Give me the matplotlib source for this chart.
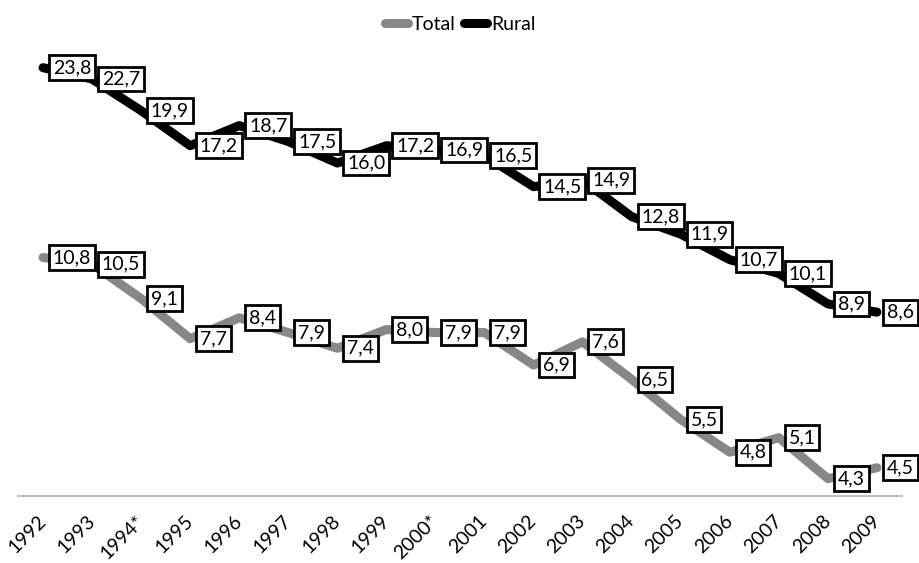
import matplotlib.pyplot as plt
import numpy as np

plt.rcParams['font.family'] = ['Lato', 'DejaVu Sans']

# data
years = ['1992', '1993', '1994*', '1995', '1996', '1997', '1998', '1999', '2000*',
         '2001', '2002', '2003', '2004', '2005', '2006', '2007', '2008', '2009']
total = [10.8, 10.5, 9.1, 7.7, 8.4, 7.9, 7.4, 8.0, 7.9, 7.9, 6.9, 7.6, 6.5, 5.5, 4.8, 5.1, 4.3, 4.5]
rural = [23.8, 22.7, 19.9, 17.2, 18.7, 17.5, 16.0, 17.2, 16.9, 16.5, 14.5, 14.9, 12.8, 11.9, 10.7, 10.1, 8.9, 8.6]

W, H = 919, 563
fig = plt.figure(figsize=(W / 100, H / 100), dpi=100)
ax = fig.add_axes([18.5 / W, 67 / H, 883 / W, 456 / H])

x = np.arange(len(years))
ax.plot(x, total, color='#878787', lw=6.5, solid_capstyle='round',
        solid_joinstyle='round', label='Total', zorder=2)
ax.plot(x, rural, color='black', lw=6.5, solid_capstyle='round',
        solid_joinstyle='round', label='Rural', zorder=3)

# étiquettes encadrées à droite des points
for serie in (total, rural):
    for i, v in enumerate(serie):
        ax.annotate(f'{v:.1f}'.replace('.', ','), (i, v), xytext=(7, 0),
                    textcoords='offset points', ha='left', va='center', fontsize=14,
                    bbox=dict(boxstyle='square,pad=0.2', fc='white', ec='black', lw=2),
                    zorder=5, annotation_clip=False)

ax.set_yscale('log')
ax.set_ylim(4, 4 * 10 ** (456 / 553))
ax.set_xlim(-0.5, len(years) - 0.5)
ax.set_yticks([])
ax.set_yticks([], minor=True)

ax.set_xticks(x)
ax.set_xticklabels(years, rotation=45, ha='right', va='center',
                   rotation_mode='anchor', fontsize=14)
ax.tick_params(axis='x', length=0, pad=16)

for s in ['top', 'left', 'right']:
    ax.spines[s].set_visible(False)
ax.spines['bottom'].set_color('#bfbfbf')
ax.spines['bottom'].set_linewidth(1.5)

fig.legend(loc='center', bbox_to_anchor=(460 / W, 1 - 24 / H), ncol=2, frameon=False,
           fontsize=14, handlelength=1.2, handletextpad=0.2, columnspacing=0.4)

plt.savefig('out.png', dpi=100)
